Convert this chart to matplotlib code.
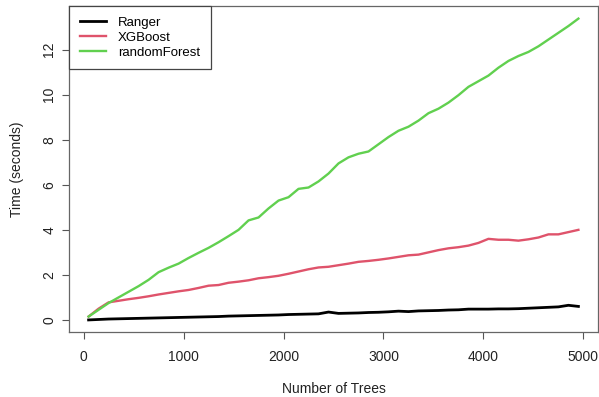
import matplotlib
matplotlib.use("Agg")
import matplotlib.pyplot as plt

plt.rcParams["font.family"] = ["Liberation Sans", "DejaVu Sans"]

# number of trees (x) and fit times in seconds
trees = list(range(50, 5000, 100))

ranger = [
    0.00, 0.02, 0.04, 0.05, 0.06, 0.07, 0.08, 0.09, 0.10, 0.11,
    0.12, 0.13, 0.14, 0.15, 0.17, 0.18, 0.19, 0.20, 0.21, 0.22,
    0.24, 0.25, 0.26, 0.27, 0.35, 0.29, 0.30, 0.31, 0.33, 0.34,
    0.36, 0.39, 0.37, 0.40, 0.41, 0.42, 0.44, 0.45, 0.48, 0.48,
    0.48, 0.49, 0.49, 0.50, 0.52, 0.54, 0.56, 0.58, 0.65, 0.60,
]

xgboost = [
    0.15, 0.50, 0.78, 0.85, 0.92, 0.98, 1.05, 1.13, 1.20, 1.27,
    1.33, 1.42, 1.52, 1.55, 1.65, 1.70, 1.76, 1.85, 1.90, 1.96,
    2.05, 2.15, 2.25, 2.33, 2.36, 2.43, 2.50, 2.58, 2.62, 2.67,
    2.73, 2.80, 2.87, 2.90, 3.00, 3.10, 3.18, 3.23, 3.30, 3.42,
    3.60, 3.56, 3.56, 3.52, 3.58, 3.66, 3.80, 3.80, 3.90, 4.00,
]

random_forest = [
    0.15, 0.45, 0.75, 1.00, 1.25, 1.50, 1.78, 2.12, 2.32, 2.50,
    2.75, 2.98, 3.20, 3.45, 3.72, 4.00, 4.42, 4.55, 4.95, 5.30,
    5.45, 5.82, 5.88, 6.15, 6.50, 6.95, 7.22, 7.38, 7.48, 7.80,
    8.12, 8.40, 8.58, 8.85, 9.18, 9.38, 9.65, 9.98, 10.35, 10.60,
    10.85, 11.20, 11.50, 11.72, 11.90, 12.15, 12.45, 12.75, 13.05, 13.38,
]

series_names = ["Ranger", "XGBoost", "randomForest"]
series_colors = ["black", "#DF536B", "#61D04F"]

fig = plt.figure(figsize=(5.99, 3.97), dpi=100)
ax = fig.add_axes([69 / 599, 65 / 397, 529 / 599, 326 / 397])

for values, name, color in zip([ranger, xgboost, random_forest], series_names, series_colors):
    ax.plot(trees, values, color=color, linewidth=2.0 if name == "Ranger" else 1.7, label=name)

ax.set_xlim(-146, 5146)
ax.set_ylim(-0.536, 13.94)
ax.set_xticks([0, 1000, 2000, 3000, 4000, 5000])
ax.set_yticks([0, 2, 4, 6, 8, 10, 12])
ax.tick_params(direction="out", length=5, width=0.8, color="#555555", labelsize=10, labelcolor="#222222")
ax.tick_params(axis="x", pad=8)
ax.tick_params(axis="y", pad=4)
for label in ax.get_yticklabels():
    label.set_rotation(90)
    label.set_va("center")
for spine in ax.spines.values():
    spine.set_color("#666666")
    spine.set_linewidth(0.9)

ax.set_xlabel("Number of Trees", fontsize=10, color="#222222", labelpad=13)
ax.set_ylabel("Time (seconds)", fontsize=10, color="#222222", labelpad=13)

legend = ax.legend(loc="upper left", borderaxespad=0, fancybox=False, framealpha=1,
                   edgecolor="#444444", fontsize=9.5, handlelength=2.0, handletextpad=0.9,
                   labelspacing=0.2, borderpad=0.8)
legend.get_frame().set_linewidth(0.9)

fig.savefig("out.png", dpi=100)
